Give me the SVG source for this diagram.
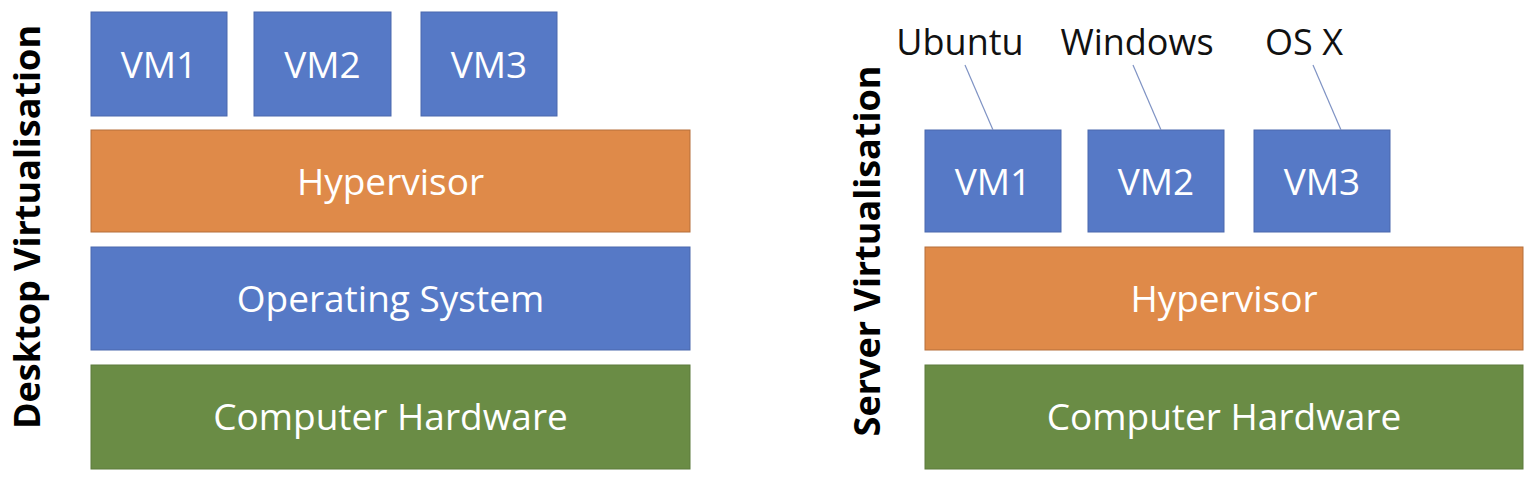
<svg xmlns="http://www.w3.org/2000/svg" width="1538" height="480" viewBox="0 0 1538 480">
<style>
.blue{fill:#5679c6;stroke:#4a69ad;stroke-width:1}
.orange{fill:#df8a49;stroke:#b56f3b;stroke-width:1}
.green{fill:#6a8c45;stroke:#5c7b3c;stroke-width:1}
.t{font-family:"Open Sans","Liberation Sans",sans-serif;font-size:37px;fill:#ffffff;text-anchor:middle}
.lbl{font-family:"Open Sans","Liberation Sans",sans-serif;font-size:36px;fill:#111111;text-anchor:middle}
.side{font-family:"Open Sans","Liberation Sans",sans-serif;font-size:36px;font-weight:bold;fill:#000000;text-anchor:middle}
.conn{stroke:#7f93c4;stroke-width:1.2;fill:none}
</style>
<rect width="1538" height="480" fill="#ffffff"/>
<g id="title-desktop"><text class="side" transform="translate(40,227) rotate(-90)">Desktop Virtualisation</text></g>
<g id="title-server"><text class="side" transform="translate(880,251) rotate(-90)">Server Virtualisation</text></g>
<g id="d-vm1"><rect class="blue" x="91" y="12" width="136" height="104"/><text class="t" x="159" y="78">VM1</text></g>
<g id="d-vm2"><rect class="blue" x="254" y="12" width="137" height="104"/><text class="t" x="322.5" y="78">VM2</text></g>
<g id="d-vm3"><rect class="blue" x="421" y="12" width="136" height="104"/><text class="t" x="489" y="78">VM3</text></g>
<g id="d-hyp"><rect class="orange" x="91" y="130" width="599" height="102"/><text class="t" x="390.5" y="195">Hypervisor</text></g>
<g id="d-os"><rect class="blue" x="91" y="247" width="599" height="103"/><text class="t" x="390.5" y="312">Operating System</text></g>
<g id="d-hw"><rect class="green" x="91" y="365" width="599" height="104"/><text class="t" x="390.5" y="430">Computer Hardware</text></g>
<g id="s-vm1"><rect class="blue" x="925" y="130" width="136" height="102"/><text class="t" x="993" y="195">VM1</text></g>
<g id="s-vm2"><rect class="blue" x="1088" y="130" width="136" height="102"/><text class="t" x="1156" y="195">VM2</text></g>
<g id="s-vm3"><rect class="blue" x="1254" y="130" width="136" height="102"/><text class="t" x="1322" y="195">VM3</text></g>
<g id="s-hyp"><rect class="orange" x="925" y="247" width="598" height="103"/><text class="t" x="1224" y="312">Hypervisor</text></g>
<g id="s-hw"><rect class="green" x="925" y="365" width="598" height="104"/><text class="t" x="1224" y="430">Computer Hardware</text></g>
<g id="lbl-ubuntu"><text class="lbl" x="960" y="55">Ubuntu</text></g>
<g id="lbl-windows"><text class="lbl" x="1137" y="55">Windows</text></g>
<g id="lbl-osx"><text class="lbl" x="1304" y="55">OS X</text></g>
<g id="connectors">
<line class="conn" x1="965" y1="65" x2="993" y2="130"/>
<line class="conn" x1="1133" y1="65" x2="1161" y2="130"/>
<line class="conn" x1="1313" y1="65" x2="1341" y2="130"/>
</g>
</svg>
